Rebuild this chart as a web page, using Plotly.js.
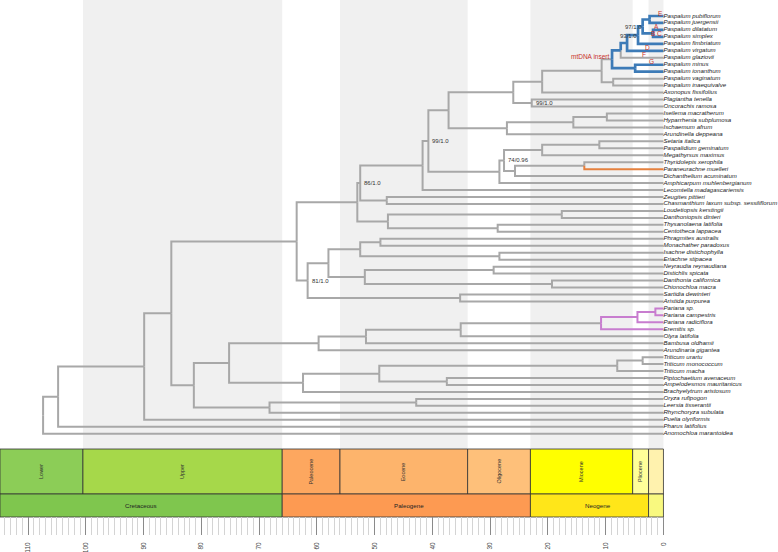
<!DOCTYPE html>
<html><head><meta charset="utf-8">
<script src="https://cdn.plot.ly/plotly-3.0.1.min.js"></script>
<style>html,body{margin:0;padding:0;background:#fff}</style>
</head><body><div id="chart" style="width:778px;height:552px"></div>
<script>
// ---------------- DATA ----------------
const tipNames = ["Paspalum pubiflorum","Paspalum juergensii","Paspalum dilatatum","Paspalum simplex","Paspalum fimbriatum","Paspalum virgatum","Paspalum glaziovii","Paspalum minus","Paspalum ionanthum","Paspalum vaginatum","Paspalum inaequivalve","Axonopus fissifolius","Plagiantha tenella","Oncorachis ramosa","Iseilema macratherum","Hyparrhenia subplumosa","Ischaemum afrum","Arundinella deppeana","Setaria italica","Paspalidium geminatum","Megathyrsus maximus","Thyridolepis xerophila","Paraneurachne muelleri","Dichanthelium acuminatum","Amphicarpum muhlenbergianum","Lecomtella madagascariensis","Zeugites pittieri","Chasmanthium laxum subsp. sessiliflorum","Loudetiopsis kerstingii","Danthoniopsis dinteri","Thysanolaena latifolia","Centotheca lappacea","Phragmites australis","Monachather paradoxus","Isachne distichophylla","Eriachne stipacea","Neyraudia reynaudiana","Distichlis spicata","Danthonia californica","Chionochloa macra","Sartidia dewinteri","Aristida purpurea","Pariana sp.","Pariana campestris","Pariana radiciflora","Eremitis sp.","Olyra latifolia","Bambusa oldhamii","Arundinaria gigantea","Triticum urartu","Triticum monococcum","Triticum macha","Piptochaetium avenaceum","Ampelodesmos mauritanicus","Brachyelytrum aristosum","Oryza rufipogon","Leersia tisserantii","Rhynchoryza subulata","Puelia olyriformis","Pharus latifolius","Anomochloa marantoidea"];
const tipAgeMa = 0;
// internal nodes: [id, child1, child2, age (Ma)]; numeric children = tip index
const treeNodes = [
 ["pj",0,1,2.4],["ds",2,3,1.8],["n97","pj","ds",3.6],["n93","n97",4,4.4],["nV","n93",5,6.3],["nG","nV",6,7.4],
 ["mi",7,8,4.9],["mt","nG","mi",8.9],["vi",9,10,8.7],["pasp","mt","vi",10.7],["ax","pasp",11,21.0],
 ["po",12,13,22.8],["paspaleae","ax","po",26.0],["ih",14,15,9.8],["ihi","ih",16,15.6],["andro","ihi",17,27.1],
 ["ap","paspaleae","andro",37.2],["sp",18,19,11.1],["spm","sp",20,21.0],["tp",21,22,13.7],["tpd","tp",23,25.7],
 ["n74","spm","tpd",27.6],["pan","n74",24,28.4],["n99","ap","pan",40.7],["lec","n99",25,41.7],["zc",26,27,47.9],
 ["n86","lec","zc",52.5],["ld",28,29,17.6],["tc",30,31,28.7],["ldtc","ld","tc",47.7],["pan2","n86","ldtc",53.0],
 ["pm",32,33,49.0],["ie",34,35,28.4],["pmie","pm","ie",52.5],["nd",36,37,29.4],["dc",38,39,19.3],["nddc","nd","dc",51.7],
 ["cmad","pmie","nddc",58.0],["sa",40,41,35.2],["n81","cmad","sa",61.6],["pacmad","pan2","n81",63.5],
 ["pc",42,43,1.4],["pcr","pc",44,4.5],["par","pcr",45,10.8],["ol","par",46,35.1],["bam","ol",47,51.5],["bamb","bam",48,59.7],
 ["um",49,50,3.6],["tri","um",51,8.0],["pa",52,53,37.5],["tp2","tri","pa",49.2],["pooid","tp2",54,62.4],["bp","bamb","pooid",75.2],
 ["ol2",55,56,42.8],["ory","ol2",57,68.2],["bep","bp","ory",81.3],["core","pacmad","bep",85.2],["pu","core",58,89.9],
 ["ph","pu",59,104.8],["root","ph",60,107.4]
];
const supportNodes = ["po","n99","n86","n74","n81","n97","n93"];
const supportText  = ["99/1.0","99/1.0","86/1.0","74/0.96","81/1.0","97/1.0","93/1.0"];
const insertClade = "mt";                       // blue: mtDNA insert
const insertLost = ["Paspalum glaziovii"];
const purpleClade = "par";
const orangeTips = ["Paraneurachne muelleri"];
const cladeLetters = ["E","A","B","C","D","F","G"];

const epochNames = ["Lower","Upper","Paleocene","Eocene","Oligocene","Miocene","Pliocene","Pleistocene"];
const epochStart = [145,100.5,66,56,33.9,23.03,5.333,2.58];
const epochEnd   = [100.5,66,56,33.9,23.03,5.333,2.58,0];
const epochColors = ["#8CCD57","#A6D84A","#FDA75F","#FDB46C","#FEC07A","#FFFF00","#FFFF99","#FFF2AE"];
const periodNames = ["Cretaceous","Paleogene","Neogene","Quaternary"];
const periodStart = [145,66,23.03,2.58];
const periodEnd   = [66,23.03,2.58,0];
const periodColors = ["#7FC64E","#FD9A52","#FFE619","#F9F97F"];
const majorTicks = [0,10,20,30,40,50,60,70,80,90,100,110];

// ---------------- LAYOUT CONFIG ----------------
const X_LEFT = 114.86, X_RIGHT = -19.83;
const Y_TOP = -2.298, Y_BOT = 74.548;
const PLOT_H = 535;
const py = p => 1 - p / PLOT_H;             // pixel row -> paper
const letterPos = [[0.57,-0.39],[1.18,1.48],[1.84,2.48],[0.69,2.48],[2.82,4.55],[3.29,5.50],[2.1,6.56]];
const periodLabelAge = [90.4,44.1,11.3,null];
const FONT = "Liberation Sans, Arial, sans-serif";
const COL = {gray:"#a8a8a8", blue:"#3d7bb7", purple:"#c87dcf", orange:"#e5813f", red:"#c8322d"};

// ---------------- TREE GEOMETRY ----------------
const nodeMap = {};
treeNodes.forEach(n => nodeMap[n[0]] = {c:[n[1],n[2]], age:n[3]});
function yOf(k){ if (typeof k === "number") return k; const n = nodeMap[k]; if (n.y === undefined) n.y = (yOf(n.c[0]) + yOf(n.c[1])) / 2; return n.y; }
function ageOf(k){ return typeof k === "number" ? tipAgeMa : nodeMap[k].age; }
function desc(k, out){ out.push(k); if (typeof k !== "number") nodeMap[k].c.forEach(c => desc(c, out)); return out; }
const lostIdx = insertLost.map(n => tipNames.indexOf(n));
const blueSet = new Set(desc(insertClade, []).filter(k => k !== insertClade && !lostIdx.includes(k)));
const purpleSet = new Set(desc(purpleClade, []).filter(k => k !== purpleClade));
const orangeSet = new Set(orangeTips.map(n => tipNames.indexOf(n)));
function colorOf(k){ if (blueSet.has(k)) return "blue"; if (purpleSet.has(k)) return "purple"; if (orangeSet.has(k)) return "orange"; return "gray"; }

const segs = {gray:{x:[],y:[]}, orange:{x:[],y:[]}, purple:{x:[],y:[]}, blue:{x:[],y:[]}};
treeNodes.forEach(n => {
  const id = n[0], a = nodeMap[id].age, y0 = yOf(id);
  nodeMap[id].c.forEach(c => {
    const s = segs[colorOf(c)], yc = yOf(c);
    s.x.push(a, a, ageOf(c), null);
    s.y.push(y0, yc, yc, null);
  });
});
const widths = {gray:2, orange:2, purple:2, blue:2.7};
const traces = Object.keys(segs).map(k => ({
  type:"scatter", mode:"lines", x:segs[k].x, y:segs[k].y,
  line:{color:COL[k], width:widths[k]}, hoverinfo:"skip", showlegend:false
}));
traces.push({
  type:"scatter", mode:"text", x:tipNames.map(() => tipAgeMa), y:tipNames.map((_, i) => i),
  text:tipNames, textposition:"middle right", cliponaxis:false,
  textfont:{family:FONT, size:6.1, style:"italic", color:"#222"}, hoverinfo:"skip", showlegend:false
});

// ---------------- SHAPES ----------------
const clampX = v => Math.min(v, X_LEFT);
const shapes = [];
epochNames.forEach((e, i) => {
  if (i % 2 === 1) shapes.push({type:"rect", xref:"x", yref:"paper", x0:clampX(epochStart[i]), x1:epochEnd[i],
    y0:py(449), y1:1, fillcolor:"#f0f0f0", line:{width:0}, layer:"below"});
});
epochNames.forEach((e, i) => shapes.push({type:"rect", xref:"x", yref:"paper", x0:clampX(epochStart[i]), x1:epochEnd[i],
  y0:py(494), y1:py(449), fillcolor:epochColors[i], line:{color:"#333", width:0.8}, layer:"below"}));
periodNames.forEach((p, i) => shapes.push({type:"rect", xref:"x", yref:"paper", x0:clampX(periodStart[i]), x1:periodEnd[i],
  y0:py(517), y1:py(494), fillcolor:periodColors[i], line:{color:"#333", width:0.8}, layer:"below"}));

// ---------------- ANNOTATIONS ----------------
const ann = [];
epochNames.forEach((e, i) => {
  if (epochStart[i] - epochEnd[i] < 2.7) return;
  ann.push({x:(clampX(epochStart[i]) + epochEnd[i]) / 2, y:(py(494) + py(449)) / 2, xref:"x", yref:"paper",
    xanchor:"center", yanchor:"middle",
    text:e, textangle:-90, showarrow:false, font:{family:FONT, size:5.5, color:"#333"}});
});
periodNames.forEach((p, i) => {
  if (periodLabelAge[i] === null) return;
  ann.push({x:periodLabelAge[i], y:(py(517) + py(494)) / 2, xref:"x", yref:"paper", xanchor:"center", yanchor:"middle",
    text:p, showarrow:false, font:{family:FONT, size:6.2, color:"#222"}});
});
supportNodes.forEach((k, i) => {
  const right = (k === "n97" || k === "n93");
  ann.push({x:nodeMap[k].age, y:yOf(k), xref:"x", yref:"y", text:supportText[i], showarrow:false,
    xanchor: right ? "right" : "left", xshift: right ? 1 : 2, yshift: right ? -1 : 0,
    font:{family:FONT, size:6, color:"#333"}});
});
cladeLetters.forEach((l, i) => ann.push({x:letterPos[i][0], y:letterPos[i][1], xref:"x", yref:"y", text:l,
  showarrow:false, font:{family:FONT, size:6.5, color:COL.red}}));
ann.push({x:nodeMap[insertClade].age, y:yOf(insertClade), xref:"x", yref:"y", text:"mtDNA insert",
  xanchor:"right", xshift:-1, yshift:2.6, showarrow:false, font:{family:FONT, size:6.5, color:COL.red}});

const minorTicks = [];
for (let t = 0; t <= 114; t++) if (t % 10 !== 0) minorTicks.push(t);

const layout = {
  width:778, height:552, margin:{l:0, r:0, t:0, b:552 - PLOT_H},
  paper_bgcolor:"#fff", plot_bgcolor:"#fff", showlegend:false, hovermode:false,
  xaxis:{range:[X_LEFT, X_RIGHT], showgrid:false, zeroline:false, showline:false,
    tickmode:"array", tickvals:majorTicks, ticktext:majorTicks.map(String),
    ticks:"inside", ticklen:18, tickwidth:1, tickcolor:"#8a8a8a", tickangle:-90,
    ticklabelstandoff:5, tickfont:{family:FONT, size:6.5, color:"#444"},
    minor:{tickmode:"array", tickvals:minorTicks, ticks:"inside", ticklen:18, tickwidth:1, tickcolor:"#d4d4d4"}},
  yaxis:{range:[Y_BOT, Y_TOP], visible:false, showgrid:false, zeroline:false},
  shapes:shapes, annotations:ann
};
Plotly.newPlot("chart", traces, layout, {staticPlot:true, displayModeBar:false});
</script></body></html>
